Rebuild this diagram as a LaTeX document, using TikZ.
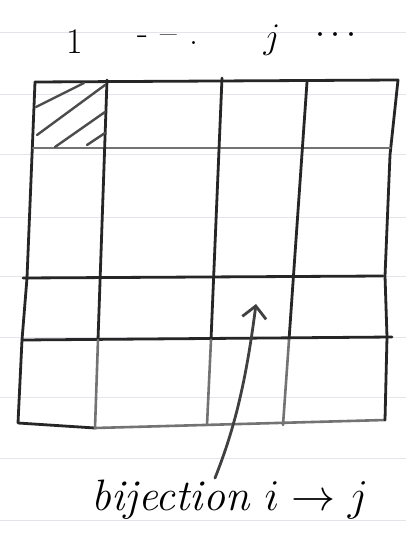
\RequirePackage{fix-cm}
\documentclass[tikz,border=0pt]{standalone}
\usepackage{fontspec}
\usetikzlibrary{arrows.meta}

\begin{document}
\begin{tikzpicture}[
    x=1pt, y=-1pt,
    >={Straight Barb[length=12pt,width=24pt]},
    pen/.style={line width=2.8pt, draw=black!85, line cap=round, line join=round},
    softpen/.style={line width=2.6pt, draw=black!55, line cap=round, line join=round},
    ruling/.style={line width=1pt, draw={rgb,255:red,226;green,229;blue,234}},
    hatch/.style={line width=2.4pt, draw=black!70, line cap=round},
    every node/.style={font=\fontsize{36}{40}\selectfont, inner sep=2pt}
]
\useasboundingbox (0,0) rectangle (406,540);
\fill[white] (0,0) rectangle (406,540);
\foreach \y in {33,95,155,217,276,337,397,458,520}
  \draw[ruling] (0,\y) -- (406,\y);

\node (one) at (75,42) {1};
\node (dashes) at (168,40) {-\,\,--\,\,.};
\node (jlab) at (272,40) {$j$};
\node (jdots) at (336,36) {$\cdots$};

\draw[pen] (35,82) -- (27,278) -- (22,340) -- (18,423) -- (95,428);
\draw[softpen] (95,428) -- (385,420);
\draw[pen] (35,82) -- (398,80) -- (390,155) -- (385,276) -- (387,337) -- (385,420);
\draw[softpen] (33,148) -- (390,148);
\draw[pen] (23,278) -- (383,276);
\draw[pen] (22,340) -- (392,337);

\draw[pen] (107,80) -- (98,340);
\draw[softpen] (98,340) -- (95,428);
\draw[pen] (222,78) -- (211,340);
\draw[softpen] (211,340) -- (207,425);
\draw[pen] (307,82) -- (289,340);
\draw[softpen] (289,340) -- (283,425);

\draw[hatch] (36,107) -- (84,83);
\draw[hatch] (37,135) -- (105,85);
\draw[hatch] (55,147) -- (105,112);
\draw[hatch] (87,145) -- (105,133);

\node[font=\fontsize{44}{48}\selectfont\itshape] (bij) at (230,500) {bijection $i\to j$};
\coordinate (cell) at (256,304);
\draw[pen, black!75, ->] ([xshift=-15pt]bij.north) .. controls (232,435) and (245,390) .. (cell);
\end{tikzpicture}
\end{document}
